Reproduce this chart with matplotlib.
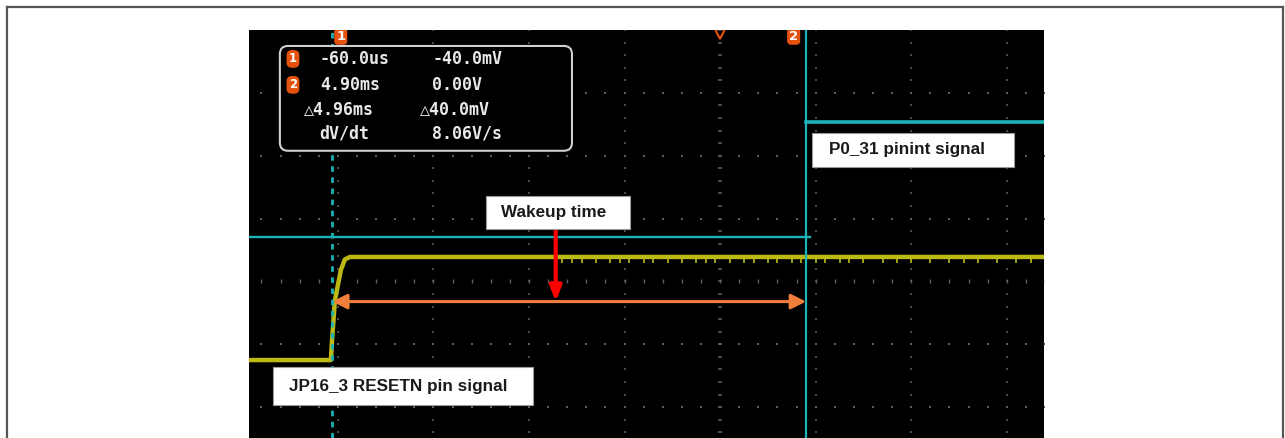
import numpy as np
import matplotlib.pyplot as plt
from matplotlib.patches import Rectangle, FancyBboxPatch
from matplotlib.lines import Line2D

# Scope screen: 1 ms/div horizontally, vertical axis in divisions
t_left, t_right = -0.93, 7.39
div_bottom, div_top = -2.49, 4.0
t_center = 4.0

# JP16_3 RESETN (yellow) trace
reset_t = [-0.93, -0.073, -0.063, -0.031, 0.0, 0.031, 0.073, 0.126, 7.39]
reset_div = [-1.25, -1.25, -0.98, -0.30, -0.06, 0.18, 0.35, 0.39, 0.39]
reset_glitch_t = [2.35, 2.45, 2.55, 2.7, 2.85, 2.95, 3.05, 3.2, 3.3, 3.45, 3.6,
                  3.75, 3.85, 3.95, 4.1, 4.25, 4.35, 4.5, 4.6, 4.75, 4.85, 5.0,
                  5.1, 5.25, 5.35, 5.5, 5.7, 5.85, 6.0, 6.2, 6.4, 6.55, 6.7,
                  6.9, 7.1, 7.25]

# P0_31 pinint (cyan) trace
pinint_low_t = [-0.93, 4.94]
pinint_low_div = [0.71, 0.71]
pinint_high_t = [4.90, 7.39]
pinint_high_div = [2.54, 2.54]

# cursors / annotations
cursor1_ms = -0.06
cursor2_ms = 4.90
wakeup_ms = 2.28
wakeup_arrow_div = -0.32

meas_col1 = ["-60.0us", "4.90ms", "\u25b34.96ms", "dV/dt"]
meas_col2 = ["-40.0mV", "0.00V", "\u25b340.0mV", "8.06V/s"]

CYAN = "#1cb3b8"
YELLOW = "#bdb914"
ORANGE = "#ef7f3a"
MARK_ORANGE = "#e4520e"
GRID = "#5e5e5e"

fig = plt.figure(figsize=(12.85, 4.38), dpi=100, facecolor="white")

# figure frame
frame = dict(color="#555555", lw=1.6, transform=fig.transFigure)
fig.add_artist(Line2D([6.5 / 1285, 6.5 / 1285], [0, 1 - 6.5 / 438], **frame))
fig.add_artist(Line2D([6.5 / 1285, 1283 / 1285], [1 - 6.5 / 438, 1 - 6.5 / 438], **frame))
fig.add_artist(Line2D([1283 / 1285, 1283 / 1285], [0, 1 - 6.5 / 438], **frame))

ax = fig.add_axes([249 / 1285, 0, 795 / 1285, 408 / 438])
ax.set_facecolor("black")
ax.set_xlim(t_left, t_right)
ax.set_ylim(div_bottom, div_top)
ax.set_xticks([])
ax.set_yticks([])
for s in ax.spines.values():
    s.set_visible(False)

# dotted graticule
minor_y = np.arange(-4, 4.01, 0.2)
minor_t = np.arange(-1, 9.01, 0.2)
for t in range(-1, 10):
    ms = 3.5 if t == t_center else 2.0
    ax.plot([t] * len(minor_y), minor_y, ls="none", marker="_", ms=ms,
            mew=1.1, color=GRID, zorder=1)
for d in range(-3, 4):
    ms = 3.5 if d == 0 else 1.6
    mk = "|" if d == 0 else "s"
    ax.plot(minor_t, [d] * len(minor_t), ls="none", marker=mk, ms=ms,
            mew=1.0 if d == 0 else 0, color=GRID, zorder=1)

# traces
ax.plot(pinint_low_t, pinint_low_div, color=CYAN, lw=1.7, zorder=3)
ax.plot(pinint_high_t, pinint_high_div, color=CYAN, lw=2.6, zorder=3)
ax.plot(reset_t, reset_div, color=YELLOW, lw=3.2, zorder=3, solid_joinstyle="round")
hi = reset_div[-1]
ax.vlines(reset_glitch_t, hi - 0.1, hi, color=YELLOW, lw=1.2, zorder=3)

# cursors
ax.axvline(cursor1_ms, color=CYAN, lw=2, ls=(0, (2, 2)), zorder=4)
ax.axvline(cursor2_ms, color=CYAN, lw=1.6, zorder=4)

# top markers
ax.plot([t_center], [4.03], marker="v", ms=16, mfc="none", mec=MARK_ORANGE,
        mew=1.5, clip_on=True, zorder=5)
for tt, lab in [(cursor1_ms + 0.09, "1"), (cursor2_ms - 0.13, "2")]:
    ax.text(tt, 3.9, lab, color="white", fontsize=9.5, fontweight="bold",
            ha="center", va="center", zorder=6, clip_on=True,
            bbox=dict(boxstyle="round,pad=0.15,rounding_size=0.3",
                      fc=MARK_ORANGE, ec="none"))

# measurement readout
box = FancyBboxPatch((-0.607, 2.079), 3.057, 1.667,
                     boxstyle="round,pad=0,rounding_size=0.085",
                     mutation_aspect=95.5 / 63, fc="black", ec="#d0d0d0",
                     lw=1.5, zorder=6)
ax.add_patch(box)
row_y = [3.54, 3.127, 2.746, 2.349]
mono = ["DejaVu Sans Mono", "DejaVu Sans"]
for i, (a, b) in enumerate(zip(meas_col1, meas_col2)):
    x1 = -0.36 if a.startswith("\u25b3") else -0.19
    x2 = 0.86 if b.startswith("\u25b3") else 0.99
    ax.text(x1, row_y[i], a, color="#e8e8e8", fontsize=12, fontweight="bold",
            family=mono, ha="left", va="center", zorder=7)
    ax.text(x2, row_y[i], b, color="#e8e8e8", fontsize=12, fontweight="bold",
            family=mono, ha="left", va="center", zorder=7)
for i, lab in enumerate(["1", "2"]):
    ax.text(-0.47, row_y[i], lab, color="white", fontsize=8.5, fontweight="bold",
            ha="center", va="center", zorder=7,
            bbox=dict(boxstyle="round,pad=0.2,rounding_size=0.45",
                      fc=MARK_ORANGE, ec="none"))

# wakeup arrows
ax.annotate("", xy=(cursor1_ms, wakeup_arrow_div), xytext=(cursor2_ms, wakeup_arrow_div),
            arrowprops=dict(arrowstyle="<|-|>,head_length=0.9,head_width=0.45",
                            color=ORANGE, lw=2.2, shrinkA=0, shrinkB=0), zorder=5)
ax.annotate("", xy=(wakeup_ms, wakeup_arrow_div), xytext=(wakeup_ms, 0.84),
            arrowprops=dict(arrowstyle="-|>,head_length=0.9,head_width=0.35",
                            color="#ff0000", lw=3, shrinkA=0, shrinkB=0), zorder=6)

# label boxes
labels = [
    ("Wakeup time", (1.55, 0.84), 1.51, 0.525, 1.71, 1.10),
    ("P0_31 pinint signal", (4.96, 1.825), 2.12, 0.54, 5.14, 2.10),
    ("JP16_3 RESETN pin signal", (-0.68, -1.97), 2.72, 0.605, -0.51, -1.67),
]
for txt, xy, w, h, tx, ty in labels:
    ax.add_patch(Rectangle(xy, w, h, fc="white", ec="#9a9a9a", lw=0.8, zorder=8))
    ax.text(tx, ty, txt, color="#1a1a1a", fontsize=12.3, fontweight="bold",
            family="Liberation Sans", ha="left", va="center", zorder=9)

fig.savefig("out.png", dpi=100, facecolor="white")
